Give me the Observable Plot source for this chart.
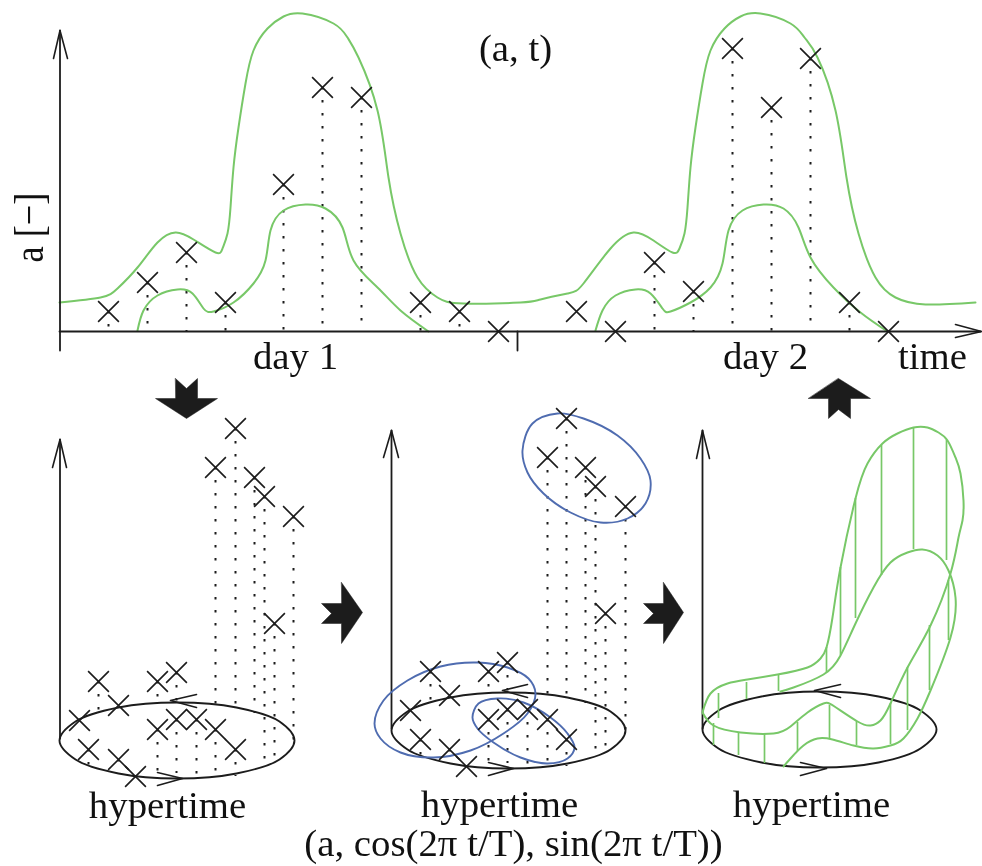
<!DOCTYPE html>
<html>
<head>
<meta charset="utf-8">
<script src="https://cdn.jsdelivr.net/npm/d3@7"></script>
<script src="https://cdn.jsdelivr.net/npm/@observablehq/plot@0.6"></script>
<style>
html,body{margin:0;padding:0;background:#fff}
svg{display:block;filter:blur(0.45px)}
</style>
</head>
<body>
<div id="chart"></div>
<script>
// ---- top panel (a, t)
const upperCurve = [[59,302],[100,297],[117,288],[137,267],[157,242],[175,232],[193,239],[215,252],[222,248],[227,233],[230,207],[233,167],[238,127],[245,83],[253,50],[267,28],[283,16],[302,13],[333,23],[347,37],[358,57],[377,110],[388,177],[400,233],[417,277],[437,297],[463,303],[520,302],[540,299],[567,293],[583,283],[610,248],[633,232],[653,240],[672,252],[679,248],[684,233],[687,207],[690,167],[695,127],[702,83],[710,50],[724,28],[740,16],[760,13],[790,23],[804,37],[817,57],[835,110],[846,177],[858,233],[875,277],[895,297],[925,304],[975,302]];
const lowerDay1 = [[137,330],[143,310],[157,295],[177,289],[192,293],[203,308],[213,311],[233,302],[253,283],[265,260],[270,230],[283,210],[305,204],[325,208],[342,227],[353,260],[377,287],[400,310],[428,331]];
const lowerDay2 = [[595,330],[602,310],[615,295],[635,289],[650,293],[662,308],[670,311],[690,302],[710,287],[722,263],[728,230],[742,210],[763,204],[783,208],[798,227],[810,257],[833,287],[860,312],[887,331]];
const topCrosses = [[108,311],[147,282],[186,252],[225,302],[283,184],[322,87],[361,97],[420,302],[459,311],[498,331],[576,311],[615,331],[654,262],[693,291],[732,48],[771,107],[810,58],[849,302],[888,331]];
const axisBase = 331;

// ---- hypertime panels
const panel1Crosses = [[235,428,708],[215,467,705],[254,477,713],[264,496,763],[293,516,740],[274,623,759],[176,672,702],[157,681,705],[98,681,710],[118,705,705],[79,720,720],[157,729,775],[176,719,773],[196,719,775],[215,729,776],[235,749,776],[88,749,768],[118,759,770],[135,776,776]];
const panel2Crosses = [[566,418,698],[547,457,695],[585,467,703],[595,486,753],[625,506,730],[605,613,749],[507,662,692],[488,671,695],[430,671,700],[449,695,695],[410,710,710],[488,719,765],[507,709,763],[527,709,765],[547,719,766],[566,739,766],[420,739,758],[449,749,760],[466,766,766]];

const ellipse1 = [[59,740],[75,721],[118,707],[177,702],[236,707],[279,721],[294,740],[279,759],[236,773],[177,778],[118,773],[75,759]];
const ellipse2 = [[391,730],[407,711],[450,697],[508,692],[567,697],[610,711],[625,730],[610,749],[567,763],[508,768],[450,763],[407,749]];
const ellipse3 = [[702,729],[718,710],[761,696],[819,691],[878,696],[920,710],[936,729],[920,748],[878,762],[819,767],[761,762],[718,748]];

const blueTop = [[557,413],[583,418],[617,435],[640,458],[650,480],[645,503],[627,518],[600,522],[570,512],[543,493],[527,472],[522,450],[532,423]];
const blueLeft = [[477,662],[507,667],[528,678],[535,693],[527,713],[503,733],[470,750],[433,757],[400,752],[380,738],[374,723],[383,700],[407,680],[440,666]];
const blueSmall = [[472,717],[478,703],[497,698],[523,702],[550,717],[567,733],[574,747],[567,758],[547,763],[520,757],[493,742],[477,728]];

const surfaceOuter = [[702,712],[710,693],[727,683],[747,679],[777,674],[807,667],[820,658],[826,647],[832,617],[840,567],[855,498],[867,463],[882,443],[897,433],[913,427],[927,427],[938,432],[947,440],[955,457],[960,473],[963,500],[962,520],[958,537],[950,573],[930,625],[907,667],[890,703],[880,720],[870,725],[857,721],[834,706],[823,703],[807,712],[790,726],[773,733],[740,732],[713,725],[702,712]];
const surfaceInner = [[780,691],[793,687],[823,674],[840,655],[855,623],[873,587],[890,562],[907,552],[922,549],[937,555],[948,570],[955,597],[950,637],[930,690],[917,718],[903,738],[890,745],[873,748],[853,745],[832,739],[817,738],[803,745],[790,758],[783,766]];
const surfaceRules = [[718,693,718],[713,723,745],[738,732,755],[764,734,763],[746,682,699],[778,675,691],[797,722,751],[829,705,738],[856,721,745],[890,703,744],[907,667,730],[929,625,690],[948,580,640],[946,440,560],[913,427,549],[881,445,575],[855,498,618],[840,567,655],[826,647,672]];

// ---- axes: [x, y] polylines
const axisLines = [
  [[59.5,30],[59.5,350]], [[59,331],[980,331]], [[517,331],[517,350]],
  [[59.5,439],[59.5,738]], [[391,430],[391,728]], [[702,430],[702,728]]
];
const openHeads = [
  [[53,58],[59.5,30],[67,58]], [[955,324],[981,331],[955,337]],
  [[52,467],[59.5,439],[66,467]], [[383,457],[391,430],[398,457]], [[696,458],[702,430],[709,458]],
  [[196,694],[170,700],[196,707]], [[157,772],[182,778],[157,785]],
  [[527,684],[502,690],[527,697]], [[488,762],[513,768],[488,775]],
  [[840,684],[814,690],[840,697]], [[800,762],[826,768],[800,775]]
];

// ---- block arrows
const blockDown = [[175,378],[186,388],[197,378],[197,398],[217,398],[186,418],[155,398],[175,398]];
const blockUp = [[838,378],[870,398],[850,398],[850,418],[838,409],[828,418],[828,398],[808,398]];
const blockRight1 = [[341,582],[362,612],[341,643],[341,623],[321,623],[331,613],[321,603],[341,603]];
const blockRight2 = [[663,582],[683,612],[663,643],[663,623],[643,623],[653,613],[643,603],[663,603]];

// ---- labels
const labels = [
  {t:"(a, t)", x:515, y:60},
  {t:"day 1", x:295, y:368},
  {t:"day 2", x:765, y:368},
  {t:"time", x:932, y:368},
  {t:"hypertime", x:167, y:817},
  {t:"hypertime", x:499, y:816},
  {t:"hypertime", x:811, y:816},
  {t:"(a, cos(2\u03C0 t/T), sin(2\u03C0 t/T))", x:513, y:855}
];
const yLabel = [{t:"a [\u2212]", x:42, y:227}];

const ink = "#1c1c1c", green = "#78c868", blue = "#4f6cb0";
const X = d => d[0], Y = d => d[1];
const dotted = {stroke: ink, strokeWidth: 2, strokeDasharray: "2.5 10.5"};
const crossStyle = {x: X, y: Y, symbol: "times", r: 9.5, stroke: ink, strokeWidth: 1.6};
const stroked = (pts, stroke, strokeWidth, curve) => Plot.line(pts, {x: X, y: Y, stroke, strokeWidth, curve});

const plot = Plot.plot({
  width: 982, height: 866,
  marginTop: 0, marginRight: 0, marginBottom: 0, marginLeft: 0,
  x: {domain: [0, 982], range: [0, 982], axis: null},
  y: {domain: [0, 866], range: [0, 866], axis: null},
  style: {background: "#fff", fontFamily: "'Liberation Serif', serif"},
  marks: [
    // dotted droplines
    Plot.ruleX(topCrosses.filter(d => d[1] < axisBase && d[0] !== 576), {x: X, y1: Y, y2: () => axisBase, ...dotted}),
    Plot.ruleX(panel1Crosses, {x: X, y1: Y, y2: d => d[2], ...dotted}),
    Plot.ruleX(panel2Crosses, {x: X, y1: Y, y2: d => d[2], ...dotted}),
    // green curves
    stroked(upperCurve, green, 2, "natural"),
    stroked(lowerDay1, green, 2, "natural"),
    stroked(lowerDay2, green, 2, "natural"),
    // axes and heads
    ...axisLines.map(l => stroked(l, ink, 1.8, "linear")),
    ...openHeads.map(l => stroked(l, ink, 1.6, "linear")),
    // base ellipses
    stroked(ellipse1, ink, 1.9, "catmull-rom-closed"),
    stroked(ellipse2, ink, 1.9, "catmull-rom-closed"),
    stroked(ellipse3, ink, 1.9, "catmull-rom-closed"),
    // clusters
    stroked(blueTop, blue, 1.9, "catmull-rom-closed"),
    stroked(blueLeft, blue, 1.9, "catmull-rom-closed"),
    stroked(blueSmall, blue, 1.9, "catmull-rom-closed"),
    // fitted surface
    Plot.ruleX(surfaceRules, {x: X, y1: Y, y2: d => d[2], stroke: green, strokeWidth: 1.7}),
    stroked(surfaceOuter, green, 2, "natural"),
    stroked(surfaceInner, green, 2, "natural"),
    // crosses
    Plot.dot(topCrosses, crossStyle),
    Plot.dot(panel1Crosses, crossStyle),
    Plot.dot(panel2Crosses, crossStyle),
    // block arrows
    ...[blockDown, blockUp, blockRight1, blockRight2].map(a =>
      Plot.line(a, {x: X, y: Y, fill: "#1c1c1c", stroke: "#1c1c1c", strokeWidth: 0.5, curve: "linear-closed"})),
    // text
    Plot.text(labels, {x: "x", y: "y", text: "t", fontSize: 38.8, fill: "#111", lineAnchor: "bottom", textAnchor: "middle"}),
    Plot.text(yLabel, {x: "x", y: "y", text: "t", fontSize: 42, fill: "#111", lineAnchor: "bottom", textAnchor: "middle", rotate: -90,
      render(index, scales, values, dimensions, context, next) {
        const g = next(index, scales, values, dimensions, context);
        g.querySelectorAll("text").forEach(t => { t.setAttribute("textLength", 70); t.setAttribute("lengthAdjust", "spacingAndGlyphs"); });
        return g;
      }})
  ]
});
document.getElementById("chart").appendChild(plot);
</script>
</body>
</html>
